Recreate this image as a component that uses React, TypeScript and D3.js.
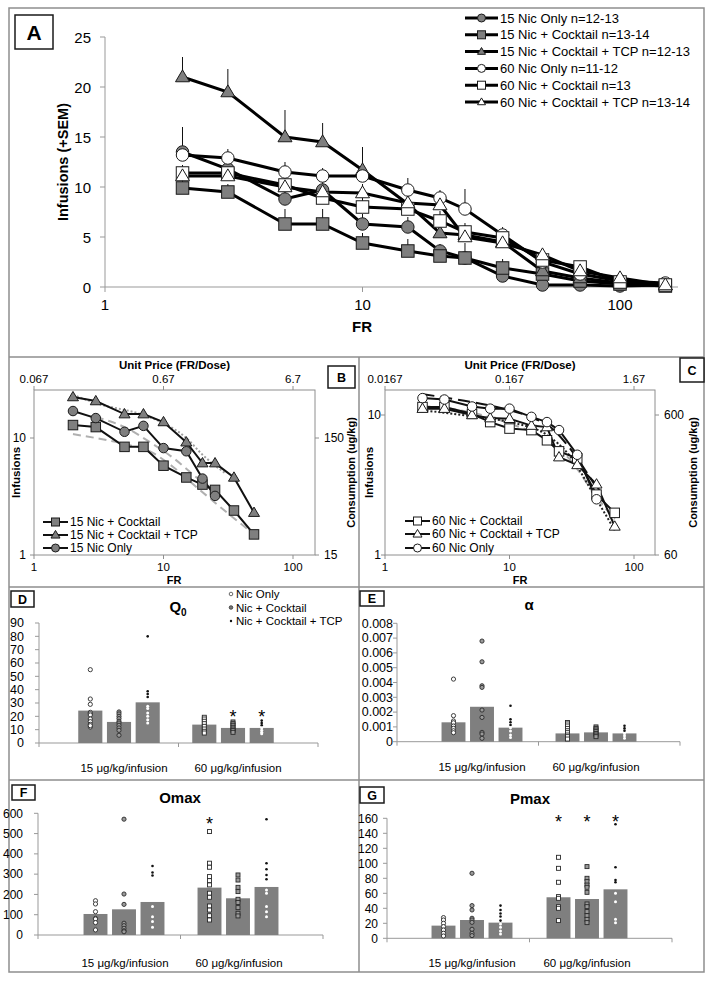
import React from 'react';
import * as d3 from 'd3';

const FONT = '"Liberation Sans", Arial, Helvetica, sans-serif';
const GRAY = '#7f7f7f';
const FRAME = '#8e8e8e';

// ---------- Panel A data ----------
const frA = [2, 3, 5, 7, 10, 15, 20, 25, 35, 50, 70, 100, 150];
const legendA = ['15 Nic Only n=12-13', '15 Nic + Cocktail n=13-14', '15 Nic + Cocktail + TCP n=12-13', '60 Nic Only n=11-12', '60 Nic + Cocktail n=13', '60 Nic + Cocktail + TCP n=13-14'];
const nic15 = [13.5, 11.8, 8.8, 9.7, 6.3, 6.0, 3.6, 2.9, 1.1, 0.2, 0.2, 0.1, 0.2];
const nic15Sem = [2.5, 1.0, 1.0, 0.9, 1.0, 1.0, 0.7, 0.6, 0.4, 0.1, 0.1, 0.1, 0.1];
const cock15 = [9.9, 9.5, 6.3, 6.3, 4.4, 3.6, 3.1, 2.9, 1.9, 1.3, 0.6, 0.3, 0.1];
const cock15Sem = [0.8, 0.8, 1.5, 1.5, 1.0, 1.2, 0.8, 1.5, 0.9, 0.5, 0.3, 0.2, 0.1];
const tcp15 = [21.0, 19.5, 15.0, 14.5, 11.7, 8.3, 5.4, 5.2, 4.5, 1.6, 0.9, 0.4, 0.2];
const tcp15Sem = [2.0, 2.3, 2.7, 1.9, 2.3, 1.5, 1.2, 1.0, 0.8, 0.5, 0.3, 0.2, 0.1];
const nic60 = [13.2, 12.9, 11.5, 11.1, 11.1, 9.7, 8.9, 7.8, 5.2, 2.5, 1.3, 0.6, 0.4];
const nic60Sem = [1.0, 0.9, 1.0, 0.8, 0.8, 1.2, 0.8, 2.0, 0.8, 0.5, 0.4, 0.2, 0.1];
const cock60 = [11.4, 11.4, 10.2, 8.9, 8.0, 7.8, 6.6, 5.5, 4.9, 2.7, 2.0, 0.5, 0.2];
const cock60Sem = [0.8, 0.6, 0.7, 0.7, 0.9, 0.9, 1.0, 0.9, 0.7, 0.5, 0.4, 0.2, 0.1];
const tcp60 = [11.1, 11.1, 10.0, 9.5, 9.4, 8.4, 8.2, 5.0, 4.4, 3.2, 1.6, 0.9, 0.2];
const tcp60Sem = [0.7, 0.7, 0.8, 0.8, 0.9, 0.9, 0.9, 0.8, 0.7, 0.5, 0.4, 0.2, 0.1];
const yTicksA = [0, 5, 10, 15, 20, 25];
const xTicksLog = [1, 10, 100];

// ---------- Panel B data ----------
const frB = [2, 3, 5, 7, 10, 15, 20, 25, 35, 50];
const b15Cocktail = [12.9, 12.4, 8.4, 8.4, 5.8, 4.6, 4.0, 3.6, 2.4, 1.5];
const b15TCP = [22.4, 20.7, 16.0, 16.0, 13.7, 9.2, 6.1, 6.1, 4.6, 2.3];
const b15Nic = [17.0, 14.8, 11.3, 12.7, 8.2, 7.7, 4.5, 3.2];
const fitB15Cocktail: [number, number][] = [[2, 10.8], [3, 10.0], [5, 8.9], [8, 7.6], [12, 5.6], [18, 3.8], [25, 2.8], [50, 1.5]];
const fitB15Nic: [number, number][] = [[3, 15.1], [5, 12.4], [8, 9.1], [12, 6.7], [18, 4.6], [25, 3.4]];
const fitB15TCP: [number, number][] = [[2, 23.4], [3, 19.9], [7, 15.7], [10, 13.4], [15, 10.0], [20, 7.2], [30, 5.0]];
const topLabelsB = ['0.067', '0.67', '6.7'];
const rightLabelsB = ['15', '150'];
const legendB = ['15 Nic + Cocktail', '15 Nic + Cocktail + TCP', '15 Nic Only'];

// ---------- Panel C data ----------
const fitC60Nic: [number, number][] = [[2, 14.1], [3.8, 12.9], [7.9, 11.4], [14.6, 9.7], [22, 8.0], [30, 5.9], [48, 3.2]];
const fitC60TCP: [number, number][] = [[2, 10.8], [5, 9.8], [10, 8.9], [20, 7.2], [30, 5.2], [50, 2.5], [70, 1.5]];
const fitC60Cocktail: [number, number][] = [[2, 11.6], [5, 10.4], [10, 8.7], [20, 6.6], [30, 4.9], [50, 2.6], [70, 1.8]];
const topLabelsC = ['0.0167', '0.167', '1.67'];
const rightLabelsC = ['60', '600'];
const legendC = ['60 Nic + Cocktail', '60 Nic + Cocktail + TCP', '60 Nic Only'];

// ---------- Bar panels ----------
const doseGroups = ['15 μg/kg/infusion', '60 μg/kg/infusion'];
const barSeries = ['Nic Only', 'Nic + Cocktail', 'Nic + Cocktail + TCP'];

const q0Means = [24.3, 15.8, 30.5, 13.8, 11.3, 11.3];
const q0Points = [
  [55, 33, 29, 23, 22, 21, 18, 16, 14, 12, 13],
  [23.3, 21.8, 20, 18.3, 16.3, 15, 13.3, 11.3, 9.5, 5.8],
  [80, 38.8, 36.8, 34.5, 27.5, 25.8, 22.5, 20, 17.5, 15],
  [19.3, 18, 16.3, 14.5, 12.5, 10.5, 8.8, 7.5],
  [15.8, 14.5, 13.3, 11.8, 10.5, 9.3, 8],
  [16.8, 15, 13.3, 11.3, 9.5, 8, 7],
];
const q0Ticks = [0, 10, 20, 30, 40, 50, 60, 70, 80, 90];
const q0Stars = [{ bar: 4, v: 22.5 }, { bar: 5, v: 22.5 }];

const alphaMeans = [0.00131, 0.00236, 0.00095, 0.00056, 0.00063, 0.00056];
const alphaPoints = [
  [0.00423, 0.00176, 0.0014, 0.00128, 0.00106, 0.0009, 0.00074, 0.00061],
  [0.0068, 0.0054, 0.00378, 0.00367, 0.00214, 0.00164, 0.00063, 0.00052, 0.00023],
  [0.00243, 0.00151, 0.00131, 0.00113, 0.00095, 0.00072, 0.00045, 0.00029],
  [0.0013, 0.0012, 0.00106, 0.0009, 0.00074, 0.00061, 0.00045, 0.00034, 0.00018],
  [0.001, 0.0009, 0.00079, 0.00068, 0.00056, 0.00045, 0.00034],
  [0.00108, 0.0009, 0.00074, 0.00056, 0.0004, 0.00023],
];
const alphaTicks = [0, 0.001, 0.002, 0.003, 0.004, 0.005, 0.006, 0.007, 0.008];

const omaxMeans = [103.6, 126.6, 162.8, 233.6, 181, 236.8];
const omaxPoints = [
  [169, 153, 115, 82, 79, 61, 25],
  [571, 202, 151, 58, 46, 33, 21, 16],
  [340, 308, 293, 140, 90, 66, 38],
  [510, 354, 334, 288, 268, 247, 206, 186, 143, 123, 95, 74],
  [296, 271, 235, 214, 176, 160, 135, 107, 94],
  [571, 354, 324, 296, 275, 222, 206, 140, 115, 90],
];
const omaxTicks = [0, 100, 200, 300, 400, 500, 600];
const omaxStars = [{ bar: 3, v: 568 }];

const pmaxMeans = [16.9, 24.4, 20.9, 54.7, 52.4, 65.3];
const pmaxPoints = [
  [27.6, 24.4, 20, 15.6, 11.1, 6.7, 3.1],
  [86.7, 43.6, 37.8, 26.7, 24.4, 21.3, 12, 6.7, 3.6],
  [43.6, 37.8, 33, 29, 23.6, 19, 14.7, 9.8, 5.8],
  [108, 93.3, 74.7, 55.6, 53.3, 42.2, 40, 23.6],
  [95.6, 80, 75.6, 71, 68, 61.3, 45.8, 42.2, 35.6, 30.2, 25.3, 20.9],
  [152, 94.7, 77.8, 74.7, 60, 48.9, 25.3, 20.9],
];
const pmaxTicks = [0, 20, 40, 60, 80, 100, 120, 140, 160];
const pmaxStars = [{ bar: 3, v: 160 }, { bar: 4, v: 160 }, { bar: 5, v: 160 }];

// ---------- helpers ----------
function Marker({ shape, x, y, s, fill, stroke = '#1a1a1a', sw = 1 }: any) {
  if (shape === 'circle') return <circle cx={x} cy={y} r={s / 2} fill={fill} stroke={stroke} strokeWidth={sw} />;
  if (shape === 'square') return <rect x={x - s / 2} y={y - s / 2} width={s} height={s} fill={fill} stroke={stroke} strokeWidth={sw} />;
  const h = s * 0.85;
  const d = `M${x},${y - h * 0.6}L${x + s / 2},${y + h * 0.4}L${x - s / 2},${y + h * 0.4}Z`;
  return <path d={d} fill={fill} stroke={stroke} strokeWidth={sw} />;
}

function LetterBox({ x, y, w, h, label, fs }: any) {
  return (
    <g>
      <rect x={x} y={y} width={w} height={h} fill="#fff" stroke="#1a1a1a" strokeWidth={1.5} />
      <text x={x + w / 2} y={y + h / 2 + fs * 0.36} textAnchor="middle" fontSize={fs} fontWeight="bold">{label}</text>
    </g>
  );
}

// ---------- Panel A ----------
function PanelA() {
  const x = d3.scaleLog().domain([1, 100]).range([105, 620]);
  const y = d3.scaleLinear().domain([0, 25]).range([287, 37]);
  const series = [
    { vals: nic15, sem: nic15Sem, shape: 'circle', fill: GRAY },
    { vals: cock15, sem: cock15Sem, shape: 'square', fill: GRAY },
    { vals: tcp15, sem: tcp15Sem, shape: 'triangle', fill: GRAY },
    { vals: nic60, sem: nic60Sem, shape: 'circle', fill: '#fff' },
    { vals: cock60, sem: cock60Sem, shape: 'square', fill: '#fff' },
    { vals: tcp60, sem: tcp60Sem, shape: 'triangle', fill: '#fff' },
  ];
  const line = d3.line<number>().x((_, i) => x(frA[i])).y(d => y(d));
  return (
    <g>
      <line x1={105} x2={105} y1={37} y2={287} stroke="#999" />
      <line x1={105} x2={678} y1={287} y2={287} stroke="#999" />
      {yTicksA.map(t => (
        <g key={t}>
          <line x1={100} x2={105} y1={y(t)} y2={y(t)} stroke="#999" />
          <text x={91} y={y(t) + 5.5} textAnchor="end" fontSize={15}>{t}</text>
        </g>
      ))}
      {xTicksLog.map(t => (
        <g key={t}>
          <line x1={x(t)} x2={x(t)} y1={287} y2={292} stroke="#999" />
          <text x={x(t)} y={310} textAnchor="middle" fontSize={15}>{t}</text>
        </g>
      ))}
      <text transform="translate(68,162) rotate(-90)" textAnchor="middle" fontSize={14.5} fontWeight="bold">Infusions (+SEM)</text>
      <text x={362} y={332} textAnchor="middle" fontSize={15} fontWeight="bold">FR</text>
      {series.map((s, k) => (
        <g key={'e' + k}>
          {s.vals.map((v, i) => (
            <line key={i} x1={x(frA[i])} x2={x(frA[i])} y1={y(v)} y2={y(v + s.sem[i])} stroke="#111" strokeWidth={1} />
          ))}
        </g>
      ))}
      {series.map((s, k) => (
        <path key={'l' + k} d={line(s.vals) || ''} fill="none" stroke="#000" strokeWidth={3} />
      ))}
      {series.map((s, k) => (
        <g key={'m' + k}>
          {s.vals.map((v, i) => (
            <Marker key={i} shape={s.shape} x={x(frA[i])} y={y(v)} s={s.shape === 'triangle' ? 14 : 12.5} fill={s.fill} />
          ))}
        </g>
      ))}
      {legendA.map((name, k) => {
        const ly = 18 + k * 16.8;
        return (
          <g key={name}>
            <line x1={465} x2={498} y1={ly} y2={ly} stroke="#000" strokeWidth={3} />
            <Marker shape={series[k].shape} x={481.5} y={ly} s={8} fill={series[k].fill} />
            <text x={500} y={ly + 4.6} fontSize={13}>{name}</text>
          </g>
        );
      })}
      <LetterBox x={15} y={15} w={38} h={34} label="A" fs={21} />
    </g>
  );
}

// ---------- Demand panels (B, C) ----------
function DemandPanel(p: any) {
  const x = d3.scaleLog().domain([1, 100]).range(p.xr);
  const y = d3.scaleLog().domain([1, 10]).range(p.yr);
  const { left, right, top, bottom } = p.frame;
  const line = d3.line<[number, number]>().x(d => x(d[0])).y(d => y(d[1])).curve(d3.curveMonotoneX);
  const sline = d3.line<[number, number]>().x(d => x(d[0])).y(d => y(d[1]));
  return (
    <g>
      <rect x={left} y={top} width={right - left} height={bottom - top} fill="none" stroke={FRAME} strokeWidth={1} />
      {xTicksLog.map((t, i) => (
        <g key={t}>
          <line x1={x(t)} x2={x(t)} y1={bottom} y2={bottom + 4} stroke={FRAME} />
          <text x={x(t)} y={bottom + 16} textAnchor="middle" fontSize={11.5}>{t}</text>
          <line x1={x(t)} x2={x(t)} y1={top} y2={top - 4} stroke={FRAME} />
          <text x={x(t)} y={top - 7} textAnchor="middle" fontSize={11.5}>{p.topLabels[i]}</text>
        </g>
      ))}
      {[1, 10].map((t, i) => (
        <g key={t}>
          <line x1={left - 4} x2={left} y1={y(t)} y2={y(t)} stroke={FRAME} />
          <text x={p.leftLabelX} y={y(t) + 4.3} textAnchor="end" fontSize={12}>{t}</text>
          <line x1={right} x2={right + 4} y1={y(t)} y2={y(t)} stroke={FRAME} />
          <text x={right + 9} y={y(t) + 4.3} textAnchor="start" fontSize={12}>{p.rightLabels[i]}</text>
        </g>
      ))}
      <text x={(left + right) / 2} y={top - 21.5} textAnchor="middle" fontSize={11.5} fontWeight="bold">Unit Price (FR/Dose)</text>
      <text x={p.frX} y={bottom + 28.5} textAnchor="middle" fontSize={11} fontWeight="bold">FR</text>
      <text transform={`translate(${p.infX},${(top + bottom) / 2}) rotate(-90)`} textAnchor="middle" fontSize={11.5} fontWeight="bold">Infusions</text>
      <text transform={`translate(${p.consX},${(top + bottom) / 2}) rotate(-90)`} textAnchor="middle" fontSize={11} fontWeight="bold">Consumption (ug/kg)</text>
      {p.fits.map((f: any, k: number) => (
        <path key={'f' + k} d={line(f.pts) || ''} fill="none" stroke={f.color} strokeWidth={f.w} strokeDasharray={f.dash} />
      ))}
      {p.series.map((s: any, k: number) => (
        <path key={'l' + k} d={sline(s.vals.map((v: number, i: number) => [s.fr[i], v])) || ''} fill="none" stroke="#111" strokeWidth={2} />
      ))}
      {p.series.map((s: any, k: number) => (
        <g key={'m' + k}>
          {s.vals.map((v: number, i: number) => (
            <Marker key={i} shape={s.shape} x={x(s.fr[i])} y={y(v)} s={s.shape === 'triangle' ? 11 : 9.5} fill={s.fill} sw={1} />
          ))}
        </g>
      ))}
      {p.legend.map((name: string, k: number) => {
        const ly = p.legendY[k];
        const s = p.series[k];
        return (
          <g key={name}>
            <line x1={p.legendX} x2={p.legendX + 25} y1={ly} y2={ly} stroke="#111" strokeWidth={2} />
            <Marker shape={s.shape} x={p.legendX + 12.5} y={ly} s={s.shape === 'triangle' ? 9 : 8} fill={s.fill} />
            <text x={p.legendX + 27} y={ly + 4.3} fontSize={12}>{name}</text>
          </g>
        );
      })}
    </g>
  );
}

// ---------- Bar panels ----------
function BarPanel(p: any) {
  const y = d3.scaleLinear().domain(p.yDomain).range(p.yRange);
  const gx = d3.scalePoint<string>().domain(doseGroups).range(p.centers);
  const sx = d3.scaleBand<string>().domain(barSeries).range([-1.5 * p.step, 1.5 * p.step]).paddingInner(0.16).paddingOuter(0.08);
  const bw = sx.bandwidth();
  const barCenter = (i: number) => (gx(doseGroups[i < 3 ? 0 : 1]) as number) + (sx(barSeries[i % 3]) as number) + bw / 2;
  const y0 = y(0);
  return (
    <g>
      <line x1={p.axisX} x2={p.axisX} y1={y(p.yDomain[1])} y2={y0} stroke="#999" />
      <line x1={p.axisX} x2={p.axisEnd} y1={y0} y2={y0} stroke="#999" />
      {[p.axisX, (p.axisX + p.axisEnd) / 2, p.axisEnd].map((t, i) => (
        <line key={i} x1={t} x2={t} y1={y0} y2={y0 + 4} stroke="#999" />
      ))}
      {p.ticks.map((t: number) => (
        <g key={t}>
          <line x1={p.axisX - 4} x2={p.axisX} y1={y(t)} y2={y(t)} stroke="#999" />
          <text x={p.labelX} y={y(t) + 4.3} textAnchor="end" fontSize={p.tickFs}>{p.fmt(t)}</text>
        </g>
      ))}
      {p.means.map((m: number, i: number) => (
        <rect key={i} x={barCenter(i) - bw / 2} y={y(m)} width={bw} height={y0 - y(m)} fill={GRAY} />
      ))}
      {p.points.map((vals: number[], i: number) => {
        const cx = barCenter(i);
        const g = i < 3 ? 0 : 1;
        const s = i % 3;
        return (
          <g key={i}>
            {vals.map((v, j) => {
              const cy = y(v);
              if (s === 2) {
                const inside = v <= p.means[i];
                return <circle key={j} cx={cx} cy={cy} r={inside ? 1.5 : 1.3} fill={inside ? '#fff' : '#111'} />;
              }
              const fill = s === 0 ? '#fff' : '#9a9a9a';
              if (g === 0) return <circle key={j} cx={cx} cy={cy} r={2.1} fill={fill} stroke="#2a2a2a" strokeWidth={0.9} />;
              return <rect key={j} x={cx - 2} y={cy - 2} width={4} height={4} fill={fill} stroke="#2a2a2a" strokeWidth={0.9} />;
            })}
          </g>
        );
      })}
      {p.stars.map((st: any, k: number) => (
        <text key={k} x={barCenter(st.bar)} y={y(st.v) + 10} textAnchor="middle" fontSize={18}>*</text>
      ))}
      {doseGroups.map((gname) => (
        <text key={gname} x={(gx(gname) as number) + p.labelShift} y={p.groupLabelY} textAnchor="middle" fontSize={11.5}>{gname}</text>
      ))}
      <text x={p.titleX} y={p.titleY} textAnchor="middle" fontSize={15} fontWeight="bold">
        {p.title}
        {p.sub ? <tspan fontSize={10} dy={4}>{p.sub}</tspan> : null}
      </text>
      <LetterBox {...p.box} fs={12.5} />
      {p.showLegend ? (
        <g>
          {barSeries.map((name, k) => {
            const ly = 594 + k * 13.5;
            return (
              <g key={name}>
                {k === 0 && <circle cx={231} cy={ly} r={1.8} fill="#fff" stroke="#444" strokeWidth={0.8} />}
                {k === 1 && <circle cx={231} cy={ly} r={1.8} fill="#777" stroke="#333" strokeWidth={0.8} />}
                {k === 2 && <circle cx={231} cy={ly} r={1.2} fill="#111" />}
                <text x={236} y={ly + 4} fontSize={11.5}>{name}</text>
              </g>
            );
          })}
        </g>
      ) : null}
    </g>
  );
}

export default function App() {
  const bSeries = [
    { fr: frB, vals: b15Cocktail, shape: 'square', fill: GRAY },
    { fr: frB, vals: b15TCP, shape: 'triangle', fill: GRAY },
    { fr: frB, vals: b15Nic, shape: 'circle', fill: GRAY },
  ];
  const cSeries = [
    { fr: frA.slice(0, 11), vals: cock60.slice(0, 11), shape: 'square', fill: '#fff' },
    { fr: frA.slice(0, 11), vals: tcp60.slice(0, 11), shape: 'triangle', fill: '#fff' },
    { fr: frA.slice(0, 10), vals: nic60.slice(0, 10), shape: 'circle', fill: '#fff' },
  ];
  return (
    <svg width={714} height={983} style={{ position: 'absolute', left: 0, top: 0 }} fontFamily={FONT}>
      <rect x={0} y={0} width={714} height={983} fill="#fff" />
      <rect x={9} y={8} width={695} height={964} fill="none" stroke={FRAME} strokeWidth={1.5} />
      <line x1={9} x2={704} y1={357} y2={357} stroke={FRAME} strokeWidth={1.5} />
      <line x1={9} x2={704} y1={587} y2={587} stroke={FRAME} strokeWidth={1.5} />
      <line x1={9} x2={704} y1={780} y2={780} stroke={FRAME} strokeWidth={1.5} />
      <line x1={359} x2={359} y1={357} y2={972} stroke={FRAME} strokeWidth={1.5} />

      <PanelA />

      <DemandPanel
        xr={[34, 293]} yr={[555, 438]} frame={{ left: 34, right: 315, top: 390, bottom: 555 }}
        topLabels={topLabelsB} rightLabels={rightLabelsB} leftLabelX={26}
        frX={174} infX={20} consX={355}
        series={bSeries}
        fits={[
          { pts: fitB15Cocktail, color: '#b0b0b0', w: 2, dash: '8,5' },
          { pts: fitB15Nic, color: '#b0b0b0', w: 2, dash: '8,5' },
          { pts: fitB15TCP, color: '#a0a0a0', w: 2, dash: '2,2' },
        ]}
        legend={legendB} legendX={43} legendY={[522, 535, 548]}
      />
      <LetterBox x={328} y={366} w={27} h={22} label="B" fs={12.5} />

      <DemandPanel
        xr={[385, 634]} yr={[555, 415]} frame={{ left: 385, right: 655, top: 390, bottom: 555 }}
        topLabels={topLabelsC} rightLabels={rightLabelsC} leftLabelX={381}
        frX={520} infX={373} consX={697}
        series={cSeries}
        fits={[
          { pts: fitC60Cocktail, color: '#aaaaaa', w: 2, dash: '8,5' },
          { pts: fitC60TCP, color: '#222', w: 2, dash: '2,2' },
          { pts: fitC60Nic, color: '#111', w: 2, dash: '12,6' },
        ]}
        legend={legendC} legendX={405} legendY={[521, 534, 548]}
      />
      <LetterBox x={680} y={358} w={24} h={24} label="C" fs={12.5} />

      <BarPanel
        yDomain={[0, 90]} yRange={[743, 623]} axisX={39} axisEnd={318} labelX={24} tickFs={12.5}
        ticks={q0Ticks} fmt={(t: number) => String(t)}
        centers={[119, 233]} step={28.7} means={q0Means} points={q0Points} stars={q0Stars}
        groupLabelY={772} labelShift={5}
        title="Q" sub="0" titleX={178} titleY={612}
        box={{ x: 11, y: 591, w: 23, h: 16, label: 'D' }} showLegend
      />
      <BarPanel
        yDomain={[0, 0.008]} yRange={[741.7, 623.3]} axisX={397} axisEnd={680} labelX={393} tickFs={12.5}
        ticks={alphaTicks} fmt={(t: number) => (t === 0 ? '0' : t.toFixed(3))}
        centers={[482, 596]} step={28.5} means={alphaMeans} points={alphaPoints} stars={[]}
        groupLabelY={771} labelShift={0}
        title="α" titleX={529} titleY={610}
        box={{ x: 360, y: 591, w: 24, h: 15, label: 'E' }}
      />
      <BarPanel
        yDomain={[0, 600]} yRange={[935, 813.3]} axisX={38} axisEnd={323} labelX={23} tickFs={12}
        ticks={omaxTicks} fmt={(t: number) => String(t)}
        centers={[124, 238]} step={28.5} means={omaxMeans} points={omaxPoints} stars={omaxStars}
        groupLabelY={967} labelShift={1}
        title="Omax" titleX={180} titleY={803}
        box={{ x: 12, y: 785, w: 23, h: 15, label: 'F' }}
      />
      <BarPanel
        yDomain={[0, 160]} yRange={[938.3, 818.3]} axisX={387} axisEnd={672} labelX={378} tickFs={12}
        ticks={pmaxTicks} fmt={(t: number) => String(t)}
        centers={[472, 587]} step={28.5} means={pmaxMeans} points={pmaxPoints} stars={pmaxStars}
        groupLabelY={967} labelShift={0}
        title="Pmax" titleX={530} titleY={804}
        box={{ x: 360, y: 787, w: 24, h: 16, label: 'G' }}
      />
    </svg>
  );
}
